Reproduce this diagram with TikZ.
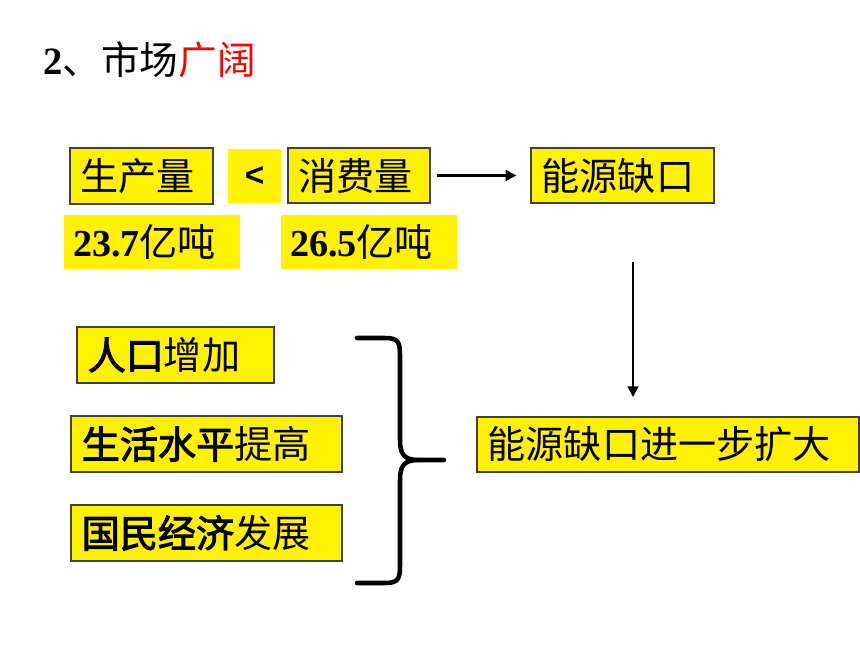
\documentclass[tikz,border=0pt]{standalone}
\usepackage{fontspec}
\setmainfont{Liberation Serif}
\newfontfamily\cjk[AutoFakeBold=2.5]{Noto Sans CJK SC}
\newfontfamily\arialb{Liberation Sans}
\usetikzlibrary{arrows.meta}
\definecolor{boxgray}{HTML}{404040}
\tikzset{
  x=0.75pt, y=-0.75pt,
  ybox/.style={fill=yellow, draw=boxgray, line width=0.9pt, inner xsep=8pt, inner ysep=0pt,
    minimum height=42pt, align=left, font=\fontsize{28.6}{30}\selectfont\cjk},
  nbox/.style={fill=yellow, inner xsep=6.75pt, inner ysep=0pt,
    minimum height=40.5pt, align=left, font=\fontsize{28.6}{30}\selectfont},
  arr/.style={line width=1.7pt, -{Triangle[length=8pt,width=8pt]}},
  brace/.style={line width=3.4pt, line cap=round, line join=round}
}
\begin{document}
\begin{tikzpicture}
\useasboundingbox (0,0) rectangle (860,645);
% title
\node[anchor=west, inner sep=0pt, font=\fontsize{29}{32}\selectfont] (title) at (43,60)
  {\textbf{2}{\cjk 、市场\textcolor{red}{广阔}}};
% top row
\node[ybox, text width=91.25pt] (prod) at (141.5,176) {生产量};
\node[fill=yellow, minimum width=39.75pt, minimum height=40.5pt, inner sep=0pt,
  font=\fontsize{25}{27}\selectfont\arialb\bfseries] (lt) at (254.5,176) {<};
\node[ybox, text width=90.5pt, minimum height=41.25pt] (cons) at (359,175.5) {消费量};
\node[ybox, text width=121.25pt, minimum height=41.25pt] (gap) at (622.5,175.5) {能源缺口};
% numbers
\node[nbox, text width=118.5pt] (n1) at (152,242) {\textbf{23.7}{\cjk 亿吨}};
\node[nbox, text width=118.5pt] (n2) at (369,242) {\textbf{26.5}{\cjk 亿吨}};
% reasons
\node[ybox, text width=131.75pt] (r1) at (175.5,355) {\textbf{人口}增加};
\node[ybox, text width=187.25pt] (r2) at (206.5,444) {\textbf{生活水平}提高};
\node[ybox, text width=187.25pt] (r3) at (206.5,533) {\textbf{国民经济}发展};
% result
\node[ybox, text width=270.5pt, minimum height=41.25pt] (big) at (668,444.5) {能源缺口进一步扩大};
% arrows
\draw[arr, shorten <=4.5pt, shorten >=10.5pt] (cons.east) -- (gap.west);
\coordinate (v1) at (633,262);
\coordinate (v2) at (633,397);
\draw[arr] (v1) -- (v2);
% brace
\coordinate (bt) at (357,338);
\coordinate (bm) at (444,460);
\coordinate (bb) at (357,583);
\draw[brace] (bt) -- (385,338) .. controls (398,338) and (400,342) .. (400,355)
  -- (400,440) .. controls (400,454) and (404,460) .. (418,460) -- (bm);
\draw[brace] (418,460) .. controls (404,460) and (400,466) .. (400,480)
  -- (400,566) .. controls (400,579) and (398,583) .. (385,583) -- (bb);
\end{tikzpicture}
\end{document}
